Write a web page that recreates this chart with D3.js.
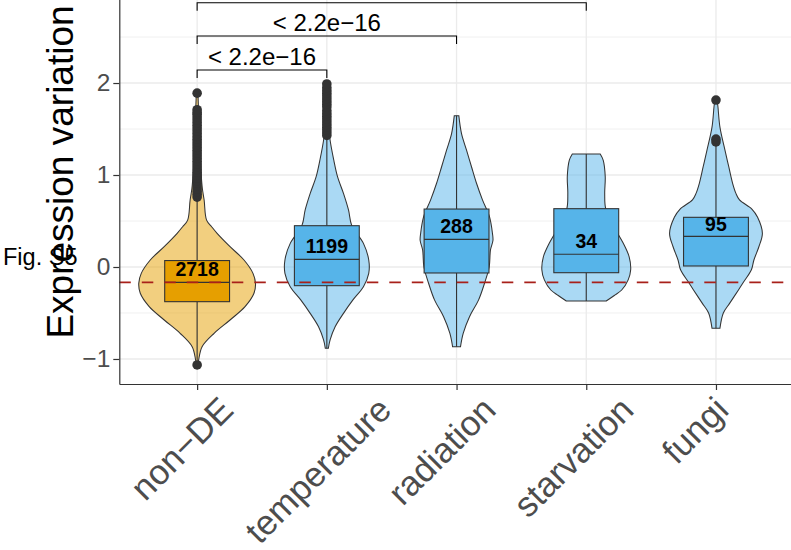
<!DOCTYPE html>
<html>
<head>
<meta charset="utf-8">
<script src="https://cdn.jsdelivr.net/npm/d3@7"></script>
<style>
  html, body { margin: 0; padding: 0; background: #ffffff; }
  svg { display: block; font-family: "Liberation Sans", Arial, Helvetica, sans-serif; }
</style>
</head>
<body>
<svg id="chart" width="791" height="550"></svg>
<script>
// ---- data -------------------------------------------------------------
const categories = ["non−DE", "temperature", "radiation", "starvation", "fungi"];
const groupType  = ["nonDE", "DE", "DE", "DE", "DE"];
const geneCounts = [2718, 1199, 288, 34, 95];
const countLabelY = [-0.02, 0.225, 0.442, 0.279, 0.471];

// box-plot statistics
const q1          = [-0.377, -0.203, -0.065, -0.062, 0.011];
const medians     = [-0.167,  0.083,  0.300,  0.138, 0.333];
const q3          = [ 0.070,  0.449,  0.630,  0.634, 0.540];
const whiskerLow  = [-1.020, -0.884, -0.866, -0.370, -0.666];
const whiskerHigh = [ 0.730,  1.400,  1.645,  1.228, 1.320];

// outliers beyond the whiskers
const outliersNonDE = [-1.065, 0.76, 0.79, 0.82, 0.85, 0.88, 0.91, 0.94, 0.97, 1.00, 1.03,
  1.06, 1.09, 1.12, 1.15, 1.18, 1.21, 1.24, 1.27, 1.30, 1.33, 1.36, 1.39, 1.42, 1.45,
  1.48, 1.51, 1.54, 1.57, 1.60, 1.63, 1.66, 1.68, 1.71, 1.89];
const outliersTemperature = [1.43, 1.46, 1.49, 1.52, 1.55, 1.58, 1.61, 1.64, 1.67, 1.70,
  1.74, 1.77, 1.80, 1.83, 1.86, 1.89, 1.92, 1.95, 1.99];
const outliersRadiation = [];
const outliersStarvation = [];
const outliersFungi = [1.36, 1.39, 1.815];
const outliers = [outliersNonDE, outliersTemperature, outliersRadiation, outliersStarvation, outliersFungi];

// kernel density profiles: [value, relative density]
const densityNonDE = [[1.89,0.014],[1.6,0.03],[1.3,0.045],[1.0,0.07],[0.85,0.09],[0.728,0.12],
  [0.51,0.162],[0.438,0.248],[0.366,0.342],[0.221,0.564],[0.076,0.803],[-0.069,0.957],
  [-0.178,1.0],[-0.286,0.974],[-0.431,0.821],[-0.576,0.564],[-0.721,0.291],[-0.866,0.085],
  [-1.011,0.026],[-1.065,0.014]];
const densityTemperature = [[2.0,0.009],[1.8,0.017],[1.6,0.026],[1.4,0.051],[1.159,0.12],
  [0.982,0.183],[0.80,0.285],[0.62,0.371],[0.45,0.427],[0.257,0.627],[0.076,0.718],
  [-0.069,0.718],[-0.214,0.627],[-0.36,0.444],[-0.504,0.285],[-0.65,0.142],[-0.793,0.056],
  [-0.884,0.026]];
const densityRadiation = [[1.645,0.039],[1.45,0.085],[1.27,0.171],[1.09,0.256],[0.91,0.342],
  [0.73,0.444],[0.547,0.564],[0.366,0.615],[0.29,0.624],[0.185,0.581],[0.0,0.559],
  [-0.177,0.479],[-0.36,0.376],[-0.54,0.222],[-0.72,0.115],[-0.866,0.068]];
const densityStarvation = [[1.228,0.239],[1.16,0.291],[0.98,0.325],[0.80,0.316],[0.634,0.333],
  [0.45,0.462],[0.26,0.632],[0.11,0.735],[-0.03,0.761],[-0.14,0.718],[-0.25,0.607],
  [-0.31,0.48],[-0.37,0.342]];
const densityFungi = [[1.81,0.021],[1.74,0.034],[1.52,0.068],[1.27,0.154],[1.09,0.219],
  [0.91,0.285],[0.80,0.342],[0.73,0.403],[0.63,0.615],[0.54,0.713],[0.366,0.795],[0.22,0.735],
  [0.076,0.65],[-0.03,0.607],[-0.166,0.47],[-0.25,0.385],[-0.39,0.239],[-0.5,0.126],[-0.666,0.068]];
const densities = [densityNonDE, densityTemperature, densityRadiation, densityStarvation, densityFungi];

// pairwise comparisons (Wilcoxon) against non-DE
const comparisonPairs = [[0, 1], [0, 2], [0, 3]];
const comparisonY = [2.141, 2.511, 2.873];
const comparisonLabels = ["< 2.2e−16", "< 2.2e−16", "< 2.2e−16"];

const yTicks = [-1, 0, 1, 2, 3];
const yMinorTicks = [-0.5, 0.5, 1.5, 2.5];

// ---- layout -----------------------------------------------------------
const svg = d3.select("#chart");
const panel = { left: 119.3, right: 793.8, top: -20, bottom: 384 };
const fillColor = { nonDE: "#E69F00", DE: "#56B4E9" };
const ink = "#333333";

const x = d3.scalePoint().domain(categories).range([panel.left, panel.right]).padding(0.6);
const y = d3.scaleLinear().domain([-1.272, 3.12]).range([panel.bottom, panel.top]);
const step = x.step();
const halfWidth = d3.scaleLinear().domain([0, 1]).range([0, 0.45 * step]);
const boxHalf = 0.25 * step;

// grid
const grid = svg.append("g");
grid.selectAll("line.minor").data(yMinorTicks).join("line")
  .attr("x1", panel.left).attr("x2", panel.right)
  .attr("y1", d => y(d)).attr("y2", d => y(d))
  .attr("stroke", "#F0F0F0").attr("stroke-width", 1);
grid.selectAll("line.majorY").data(yTicks).join("line")
  .attr("x1", panel.left).attr("x2", panel.right)
  .attr("y1", d => y(d)).attr("y2", d => y(d))
  .attr("stroke", "#EBEBEB").attr("stroke-width", 1.3);
grid.selectAll("line.majorX").data(categories).join("line")
  .attr("x1", d => x(d)).attr("x2", d => x(d))
  .attr("y1", panel.top).attr("y2", panel.bottom)
  .attr("stroke", "#EBEBEB").attr("stroke-width", 1.3);

// violins
const violinArea = (cx) => d3.area()
  .y(d => y(d[0]))
  .x0(d => cx - halfWidth(d[1]))
  .x1(d => cx + halfWidth(d[1]))
  .curve(d3.curveCatmullRom.alpha(0.5));

categories.forEach((c, i) => {
  const cx = x(c);
  svg.append("path")
    .attr("d", violinArea(cx)(densities[i]))
    .attr("fill", fillColor[groupType[i]])
    .attr("fill-opacity", 0.5)
    .attr("stroke", ink)
    .attr("stroke-width", 1.05);
});

// box plots
categories.forEach((c, i) => {
  const cx = x(c);
  const g = svg.append("g");
  g.selectAll("circle").data(outliers[i]).join("circle")
    .attr("cx", cx).attr("cy", d => y(d)).attr("r", 4.8)
    .attr("fill", ink);
  g.append("line").attr("x1", cx).attr("x2", cx)
    .attr("y1", y(q3[i])).attr("y2", y(whiskerHigh[i]))
    .attr("stroke", ink).attr("stroke-width", 1.1);
  g.append("line").attr("x1", cx).attr("x2", cx)
    .attr("y1", y(q1[i])).attr("y2", y(whiskerLow[i]))
    .attr("stroke", ink).attr("stroke-width", 1.1);
  g.append("rect")
    .attr("x", cx - boxHalf).attr("width", 2 * boxHalf)
    .attr("y", y(q3[i])).attr("height", y(q1[i]) - y(q3[i]))
    .attr("fill", fillColor[groupType[i]])
    .attr("stroke", ink).attr("stroke-width", 1.1);
  g.append("line")
    .attr("x1", cx - boxHalf).attr("x2", cx + boxHalf)
    .attr("y1", y(medians[i])).attr("y2", y(medians[i]))
    .attr("stroke", ink).attr("stroke-width", 1.1);
});

// reference line at the non-DE median
svg.append("line")
  .attr("x1", panel.left).attr("x2", panel.right)
  .attr("y1", y(medians[0])).attr("y2", y(medians[0]))
  .attr("stroke", "#A8201A").attr("stroke-width", 1.6)
  .attr("stroke-dasharray", "11.5,11");

// gene counts
svg.append("g").selectAll("text").data(categories).join("text")
  .attr("x", d => x(d))
  .attr("y", (d, i) => y(countLabelY[i]))
  .attr("dy", "0.36em")
  .attr("text-anchor", "middle")
  .attr("font-weight", "bold")
  .attr("font-size", 19.5)
  .attr("fill", "#000")
  .text((d, i) => geneCounts[i]);

// comparison brackets
const tip = 8;
const brackets = svg.append("g");
comparisonPairs.forEach((p, k) => {
  const xa = x(categories[p[0]]), xb = x(categories[p[1]]), yy = y(comparisonY[k]);
  brackets.append("path")
    .attr("d", `M${xa},${yy + tip}L${xa},${yy}L${xb},${yy}L${xb},${yy + tip}`)
    .attr("fill", "none").attr("stroke", "#000").attr("stroke-width", 1.1);
  brackets.append("text")
    .attr("x", (xa + xb) / 2).attr("y", yy - 5)
    .attr("text-anchor", "middle")
    .attr("font-size", 24).attr("fill", "#000")
    .text(comparisonLabels[k]);
});

// axes
const yAxis = svg.append("g")
  .attr("transform", `translate(${panel.left},0)`)
  .call(d3.axisLeft(y).tickValues(yTicks).tickSize(6).tickSizeOuter(0).tickPadding(3)
    .tickFormat(d => d3.format("d")(d)));
yAxis.select(".domain").attr("stroke", ink).attr("stroke-width", 1.2);
yAxis.selectAll(".tick line").attr("stroke", ink).attr("stroke-width", 1.2);
yAxis.selectAll(".tick text").attr("fill", "#4D4D4D").attr("font-size", 24.5)
  .attr("font-family", "Liberation Sans, Arial, sans-serif");

const xAxis = svg.append("g")
  .attr("transform", `translate(0,${panel.bottom})`)
  .call(d3.axisBottom(x).tickSize(6).tickSizeOuter(0));
xAxis.select(".domain").attr("stroke", ink).attr("stroke-width", 1.2);
xAxis.selectAll(".tick line").attr("stroke", ink).attr("stroke-width", 1.2);
xAxis.selectAll(".tick text")
  .attr("fill", "#4D4D4D").attr("font-size", 35)
  .attr("font-family", "Liberation Sans, Arial, sans-serif")
  .attr("text-anchor", "end")
  .attr("x", 0).attr("y", 0).attr("dy", 0)
  .each(function () {
    // 45° labels, end of the baseline shifted right in proportion to label length
    const len = this.getComputedTextLength();
    d3.select(this).attr("transform", `translate(${0.46 * len - 21},28) rotate(-45)`);
  });

// titles
svg.append("text")
  .attr("x", 3).attr("y", 265)
  .attr("font-size", 23.5).attr("fill", "#000")
  .text("Fig. S5");
svg.append("text")
  .attr("transform", "translate(73,172) rotate(-90)")
  .attr("text-anchor", "middle")
  .attr("font-size", 37).attr("fill", "#000")
  .text("Expression variation");
</script>
</body>
</html>
